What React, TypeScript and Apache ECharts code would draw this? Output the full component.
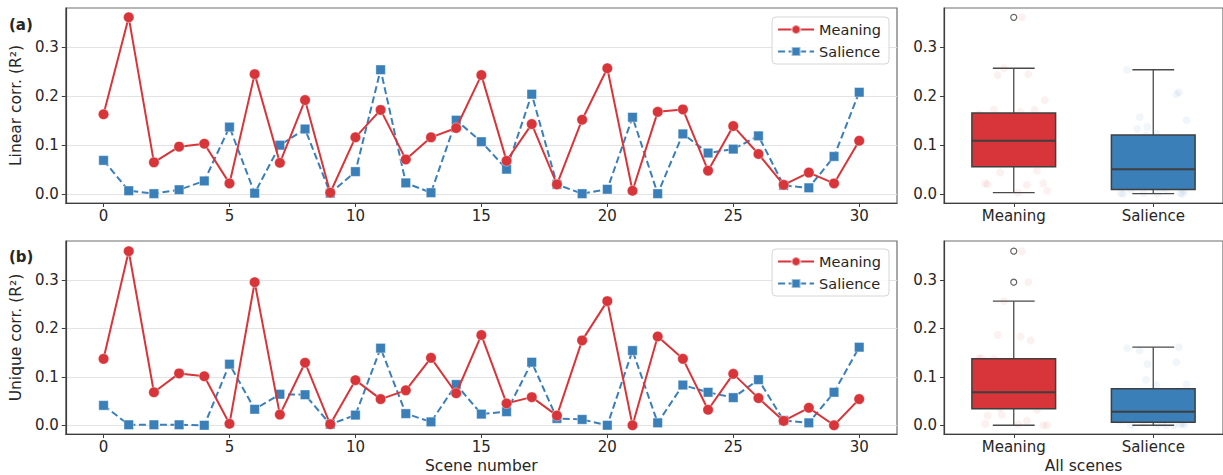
import React, { useEffect, useRef } from "react";
import * as echarts from "echarts";

const scenes = [0,1,2,3,4,5,6,7,8,9,10,11,12,13,14,15,16,17,18,19,20,21,22,23,24,25,26,27,28,29,30];
const linearMeaning = [0.163,0.361,0.065,0.097,0.103,0.022,0.245,0.064,0.192,0.003,0.116,0.172,0.071,0.116,0.135,0.243,0.068,0.143,0.020,0.152,0.257,0.007,0.168,0.173,0.048,0.139,0.082,0.019,0.044,0.022,0.109];
const linearSalience = [0.069,0.007,0.001,0.009,0.027,0.137,0.002,0.100,0.133,0.002,0.046,0.254,0.023,0.003,0.151,0.107,0.051,0.204,0.020,0.001,0.010,0.157,0.001,0.123,0.084,0.092,0.119,0.018,0.013,0.077,0.208];
const uniqueMeaning = [0.137,0.359,0.068,0.107,0.101,0.003,0.295,0.022,0.129,0.002,0.093,0.054,0.072,0.139,0.066,0.186,0.045,0.058,0.020,0.175,0.256,0.000,0.183,0.137,0.032,0.106,0.056,0.009,0.036,0.000,0.054];
const uniqueSalience = [0.041,0.001,0.001,0.001,0.000,0.126,0.033,0.064,0.063,0.002,0.021,0.159,0.024,0.007,0.084,0.023,0.028,0.130,0.014,0.012,0.000,0.154,0.005,0.083,0.068,0.057,0.094,0.010,0.005,0.068,0.161];
const seriesNames = ["Meaning", "Salience"];
const boxCategories = ["Meaning", "Salience"];
const xTicks = [0, 5, 10, 15, 20, 25, 30];
const yTicks = [0, 0.1, 0.2, 0.3];

const RED = "#d8353a";
const BLUE = "#3a7fb8";
const TEXT = "#262626";
const FONT = "DejaVu Sans";

function quantile(sorted: number[], p: number) {
  const idx = (sorted.length - 1) * p;
  const lo = Math.floor(idx);
  const hi = Math.ceil(idx);
  return sorted[lo] + (sorted[hi] - sorted[lo]) * (idx - lo);
}
function boxStats(values: number[]) {
  const s = [...values].sort((a, b) => a - b);
  const q1 = quantile(s, 0.25), med = quantile(s, 0.5), q3 = quantile(s, 0.75);
  const iqr = q3 - q1;
  const lf = q1 - 1.5 * iqr, hf = q3 + 1.5 * iqr;
  const inside = s.filter((v) => v >= lf && v <= hf);
  const outliers = s.filter((v) => v < lf || v > hf);
  return { lo: inside[0], q1, med, q3, hi: inside[inside.length - 1], outliers };
}
function jitter(i: number) {
  return (((i * 0.6180339887) % 1) - 0.5) * 0.5;
}

export default function App() {
  const ref = useRef<HTMLDivElement>(null);
  useEffect(() => {
    if (!ref.current) return;
    const chart = echarts.init(ref.current, undefined, { renderer: "svg" });

    const grids = [
      { left: 59, top: 8, width: 838, height: 195 },
      { left: 59, top: 241, width: 838, height: 194 },
      { left: 944, top: 8, width: 280, height: 195 },
      { left: 944, top: 241, width: 280, height: 194 },
    ].map((g) => ({ ...g, show: true, borderColor: "#6e6e6e", borderWidth: 1.2, backgroundColor: "#fff" }));

    const axisLine = { show: true, onZero: false, lineStyle: { color: "#3d3d3d", width: 1.2 } };
    const labelStyle = { fontSize: 15, color: TEXT, fontFamily: FONT };
    const nameStyle = { fontSize: 15.5, color: TEXT, fontFamily: FONT };

    const xAxes: any[] = [0, 1].map((gi) => ({
      type: "value", gridIndex: gi, min: -1.5, max: 31.5,
      axisLine, splitLine: { show: false },
      axisTick: { show: true, length: 4, customValues: xTicks, lineStyle: { color: "#3d3d3d" } },
      axisLabel: { ...labelStyle, margin: 5, customValues: xTicks },
      name: gi === 1 ? "Scene number" : "", nameLocation: "middle", nameGap: 24,
      nameTextStyle: nameStyle,
    }));
    [2, 3].forEach((gi) => xAxes.push({
      type: "value", gridIndex: gi, min: -0.5, max: 1.5,
      axisLine, splitLine: { show: false },
      axisTick: { show: true, length: 4, customValues: [0, 1], lineStyle: { color: "#3d3d3d" } },
      axisLabel: { ...labelStyle, margin: 5, customValues: [0, 1], formatter: (v: number) => boxCategories[Math.round(v)] },
      name: gi === 3 ? "All scenes" : "", nameLocation: "middle", nameGap: 24,
      nameTextStyle: nameStyle,
    }));

    const yAxes = [0, 1, 2, 3].map((gi) => ({
      type: "value", gridIndex: gi, min: -0.018, max: 0.38,
      axisLine,
      splitLine: { show: gi < 2, lineStyle: { color: "#e3e3e3", width: 1 } },
      axisTick: { show: true, length: 4, customValues: yTicks, lineStyle: { color: "#3d3d3d" } },
      axisLabel: { ...labelStyle, margin: 7, customValues: yTicks, formatter: (v: number) => v.toFixed(1) },
      name: gi === 0 ? "Linear corr. (R²)" : gi === 1 ? "Unique corr. (R²)" : "",
      nameLocation: "middle", nameGap: 34, nameRotate: 90,
      nameTextStyle: nameStyle,
    }));

    const lineSeries = (name: string, values: number[], gi: number, color: string, dashed: boolean) => ({
      type: "line", name, xAxisIndex: gi, yAxisIndex: gi,
      data: scenes.map((s, i) => [s, values[i]]),
      symbol: dashed ? "rect" : "circle", symbolSize: dashed ? 9.5 : 10.5,
      itemStyle: { color, borderColor: "rgba(255,255,255,0.5)", borderWidth: 0.8 },
      lineStyle: { color, width: 2, type: dashed ? [7, 3.5] : "solid" },
      z: dashed ? 3 : 4,
    });

    const panels = [
      { gi: 2, meaning: linearMeaning, salience: linearSalience },
      { gi: 3, meaning: uniqueMeaning, salience: uniqueSalience },
    ];
    const boxSeries: any[] = [];
    panels.forEach((p) => {
      const groups = [p.meaning, p.salience];
      const colors = [RED, BLUE];
      const strip: any[] = [];
      groups.forEach((vals, ci) => vals.forEach((v, i) => strip.push({ value: [ci + jitter(i + ci * 7), v], itemStyle: { color: colors[ci] } })));
      boxSeries.push({
        type: "scatter", xAxisIndex: p.gi, yAxisIndex: p.gi, data: strip,
        symbolSize: 8, itemStyle: { opacity: 0.07 }, z: 1, silent: true,
      });
      const stats = groups.map(boxStats);
      boxSeries.push({
        type: "custom", xAxisIndex: p.gi, yAxisIndex: p.gi, z: 3,
        data: stats.map((s, ci) => [ci, s.lo, s.q1, s.med, s.q3, s.hi]),
        encode: { x: 0, y: [1, 2, 3, 4, 5] },
        renderItem: (params: any, api: any) => {
          const x = api.value(0);
          const pLo = api.coord([x, api.value(1)]);
          const pQ1 = api.coord([x, api.value(2)]);
          const pMed = api.coord([x, api.value(3)]);
          const pQ3 = api.coord([x, api.value(4)]);
          const pHi = api.coord([x, api.value(5)]);
          const bw = api.size([0.6, 0])[0];
          const cx = pLo[0];
          const edge = "#3f3f3f";
          const wh = { stroke: "#4a4a4a", lineWidth: 1.3 };
          return {
            type: "group",
            children: [
              { type: "line", shape: { x1: cx, y1: pQ1[1], x2: cx, y2: pLo[1] }, style: wh },
              { type: "line", shape: { x1: cx, y1: pQ3[1], x2: cx, y2: pHi[1] }, style: wh },
              { type: "line", shape: { x1: cx - bw / 4, y1: pLo[1], x2: cx + bw / 4, y2: pLo[1] }, style: wh },
              { type: "line", shape: { x1: cx - bw / 4, y1: pHi[1], x2: cx + bw / 4, y2: pHi[1] }, style: wh },
              { type: "rect", shape: { x: cx - bw / 2, y: pQ3[1], width: bw, height: pQ1[1] - pQ3[1] }, style: { fill: colors[params.dataIndex], stroke: edge, lineWidth: 1.5 } },
              { type: "line", shape: { x1: cx - bw / 2, y1: pMed[1], x2: cx + bw / 2, y2: pMed[1] }, style: { stroke: edge, lineWidth: 2 } },
            ],
          };
        },
      });
      const outl: any[] = [];
      stats.forEach((s, ci) => s.outliers.forEach((v) => outl.push([ci, v])));
      boxSeries.push({
        type: "scatter", xAxisIndex: p.gi, yAxisIndex: p.gi, data: outl,
        symbol: "circle", symbolSize: 6, z: 5,
        itemStyle: { color: "#fff", borderColor: "#3c3c3c", borderWidth: 1.2 },
      });
    });

    const legendBase = {
      data: seriesNames, orient: "vertical", right: 334,
      backgroundColor: "rgba(255,255,255,0.85)", borderColor: "#d6d6d6", borderWidth: 1, borderRadius: 4,
      padding: [5, 8, 5, 5], itemGap: 7, itemWidth: 36, itemHeight: 11,
      textStyle: { fontSize: 14.5, color: TEXT, fontFamily: FONT },
    };

    chart.setOption({
      animation: false,
      textStyle: { fontFamily: FONT },
      grid: grids,
      xAxis: xAxes,
      yAxis: yAxes,
      legend: [{ ...legendBase, top: 17 }, { ...legendBase, top: 249 }],
      graphic: [
        { type: "text", left: 9, top: 17, style: { text: "(a)", font: `bold 15px ${FONT}`, fill: TEXT } },
        { type: "text", left: 9, top: 249, style: { text: "(b)", font: `bold 15px ${FONT}`, fill: TEXT } },
      ],
      series: [
        lineSeries("Meaning", linearMeaning, 0, RED, false),
        lineSeries("Salience", linearSalience, 0, BLUE, true),
        lineSeries("Meaning", uniqueMeaning, 1, RED, false),
        lineSeries("Salience", uniqueSalience, 1, BLUE, true),
        ...boxSeries,
      ],
    });
    return () => chart.dispose();
  }, []);
  return <div ref={ref} style={{ position: "absolute", left: 0, top: 0, width: 1223, height: 475 }} />;
}
